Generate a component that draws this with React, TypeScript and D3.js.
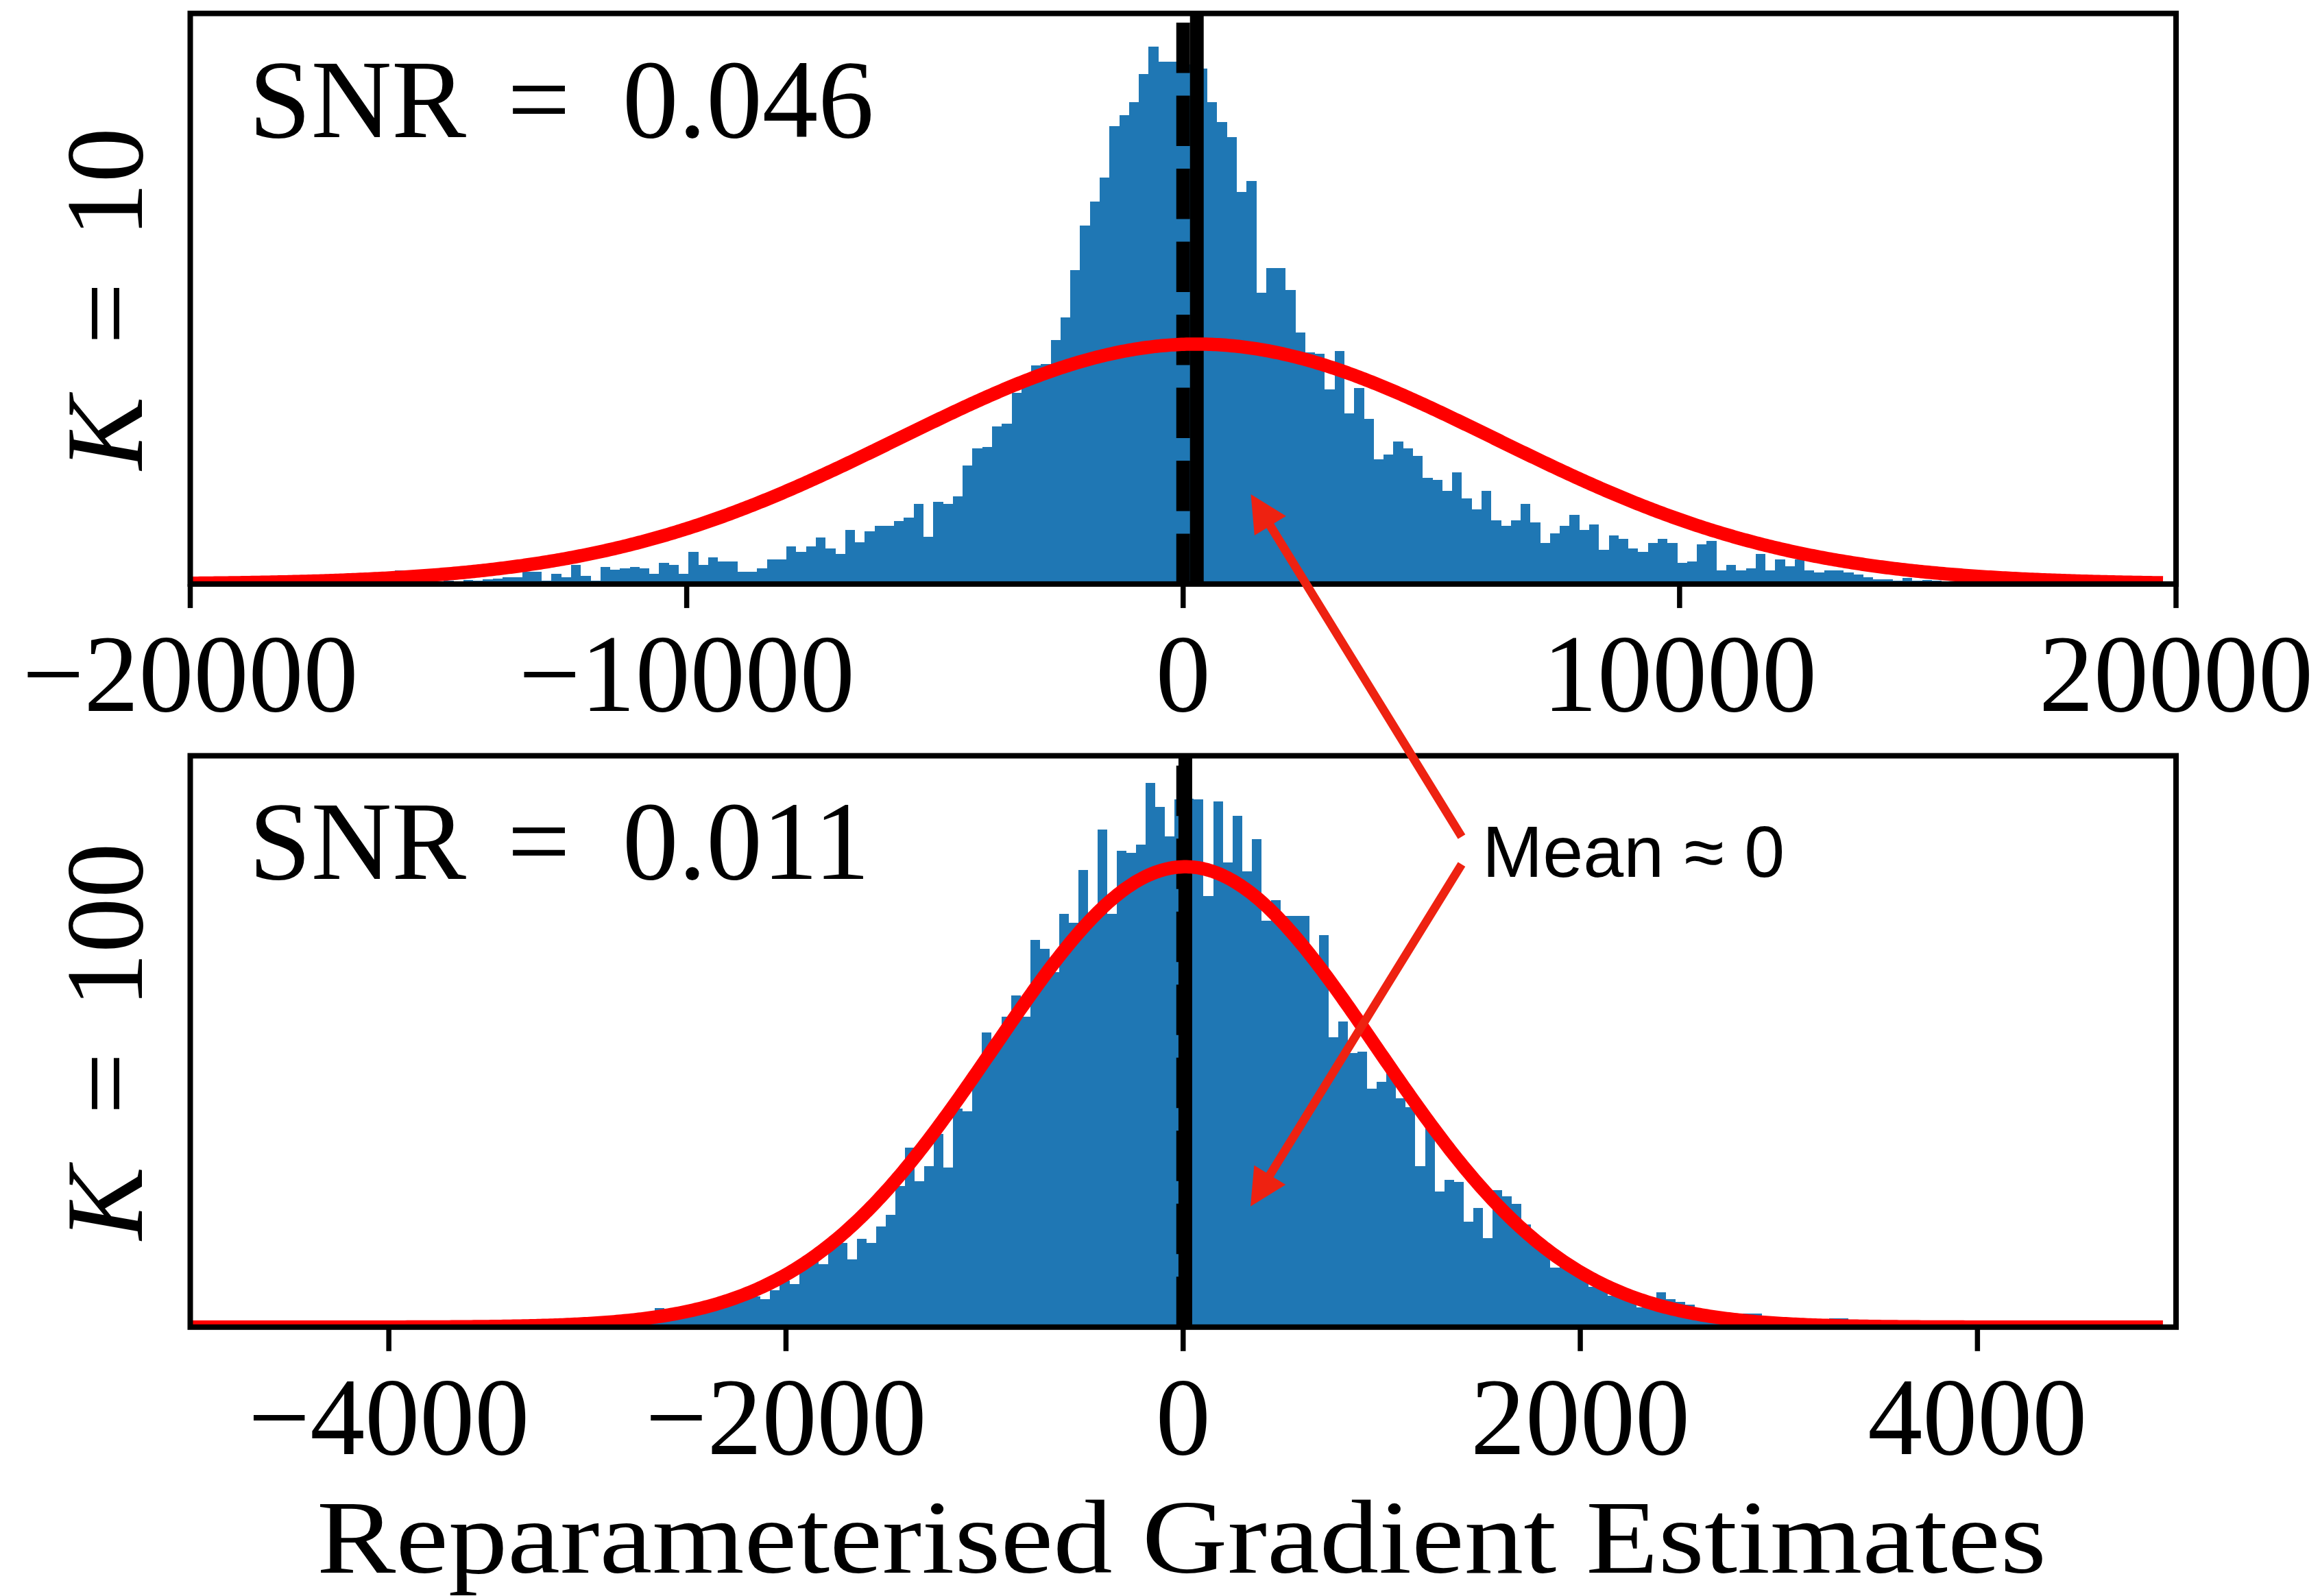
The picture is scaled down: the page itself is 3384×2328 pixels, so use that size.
import React from "react";
import * as d3 from "d3";

// ---------------- data ----------------
// Top panel: K = 10
const topXDomain = [-20000, 20000];
const topTicks = [-20000, -10000, 0, 10000, 20000];
const topBinStart = -15879;
const topBinWidth = 197.2;
const topCounts = [
  20, 3, 2, 4, 3, 5, 4, 6, 5, 7, 8,
  10, 10, 18, 18, 5, 15, 10, 28, 12, 5,
  25, 21, 23, 25, 23, 15, 31, 28, 15, 47,
  28, 39, 33, 33, 18, 18, 23, 36, 36, 55,
  47, 55, 68, 52, 44, 79, 61, 77, 85, 85,
  92, 97, 117, 69, 120, 117, 128, 173, 198, 200,
  230, 234, 279, 295, 319, 321, 356, 389, 458, 523,
  558, 593, 668, 684, 703, 744, 784, 762, 762, 767,
  758, 752, 703, 674, 652, 572, 588, 425, 461, 461,
  429, 367, 338, 336, 284, 340, 249, 286, 241, 182,
  189, 208, 198, 187, 155, 152, 136, 163, 125, 109,
  136, 93, 85, 93, 117, 90, 60, 74, 85, 101,
  79, 87, 50, 71, 66, 52, 47, 60, 66, 60,
  31, 33, 58, 63, 20, 28, 20, 23, 44, 20,
  36, 26, 36, 20, 17, 20, 20, 17, 14, 10, 7, 7, 5, 9, 5, 6, 5,
];
const topYMax = 832.3;
const topMean = 276;
const topSd = 6000;
const topFitPeak = 350;
const topFitRange = [-20000, 19737];
const topSNR = "0.046";
const topK = "10";

// Bottom panel: K = 100
const bottomXDomain = [-5000, 5000];
const bottomTicks = [-4000, -2000, 0, 2000, 4000];
const bottomBinStart = -2806.8;
const bottomBinWidth = 48.49;
const bottomCounts = [
  8, 12, 16,
  28, 22, 25, 28, 30, 33, 36, 38, 42, 45,
  45, 41, 54, 68, 63, 86, 100, 92, 123, 123,
  99, 129, 123, 147, 164, 206, 262, 213, 235, 282,
  233, 319, 315, 368, 430, 410, 453, 484, 453, 565,
  552, 518, 603, 590, 667, 600, 726, 603, 695, 692,
  704, 794, 759, 716, 770, 771, 770, 629, 767, 678,
  746, 665, 712, 593, 623, 600, 600, 600, 532, 572,
  423, 446, 400, 402, 348, 358, 375, 334, 321, 235,
  297, 198, 215, 212, 154, 174, 130, 200, 191, 180,
  150, 132, 120, 87, 98, 82, 72, 59, 63, 46,
  45, 38, 29, 40, 51, 41, 37, 33, 25, 8,
  18, 15, 14, 20, 20, 10, 8, 6, 5, 4, 3, 3, 13, 13,
];
const bottomYMax = 833.4;
const bottomMean = 11;
const bottomSd = 965;
const bottomFitPeak = 671.5;
const bottomFitRange = [-5000, 4934];
const bottomSNR = "0.011";
const bottomK = "100";

const trueValue = 0; // dashed reference line
const xLabel = "Reparameterised Gradient Estimates";
const annotationText = "Mean \u2248 0";
// arrow targets, in data coordinates of [top panel, bottom panel]
const annotationTargets = [
  [1364, 131],
  [339, 176],
];

// ---------------- layout ----------------
const W = 3384;
const H = 2328;
const AX_L = 277.5;
const AX_R = 3174;
const PANEL_Y = [
  [19.6, 851.9],
  [1102.4, 1935.8],
];
const ARROW_STARTS = [
  [2132, 1220.5],
  [2132, 1260.7],
];
const SERIF = "'Liberation Serif', 'Times New Roman', serif";
const SANS = "'Liberation Sans', Arial, sans-serif";
const BAR = "#1f77b4";
const ARROW = "#ee2211";

const panels = [
  {
    counts: topCounts, binStart: topBinStart, binWidth: topBinWidth,
    xDomain: topXDomain, ticks: topTicks, yMax: topYMax,
    mean: topMean, sd: topSd, peak: topFitPeak, fitRange: topFitRange,
    snr: topSNR, k: topK, y: PANEL_Y[0],
  },
  {
    counts: bottomCounts, binStart: bottomBinStart, binWidth: bottomBinWidth,
    xDomain: bottomXDomain, ticks: bottomTicks, yMax: bottomYMax,
    mean: bottomMean, sd: bottomSd, peak: bottomFitPeak, fitRange: bottomFitRange,
    snr: bottomSNR, k: bottomK, y: PANEL_Y[1],
  },
];

const fmt = (v: number) => (v < 0 ? "\u2212" + Math.abs(v) : String(v));

function scalesFor(p: any) {
  const x = d3.scaleLinear().domain(p.xDomain).range([AX_L, AX_R]);
  const y = d3.scaleLinear().domain([0, p.yMax]).range([p.y[1], p.y[0]]);
  return { x, y };
}

function Panel({ p, id }: { p: any; id: number }) {
  const { x, y } = scalesFor(p);
  const top = p.y[0];
  const bottom = p.y[1];
  const bins = p.counts.map((c: number, i: number) => ({
    x0: p.binStart + i * p.binWidth,
    x1: p.binStart + (i + 1) * p.binWidth,
    c,
  }));
  const n = 800;
  const xs = d3.range(n + 1).map((i) => p.fitRange[0] + ((p.fitRange[1] - p.fitRange[0]) * i) / n);
  const fit = (v: number) => p.peak * Math.exp(-0.5 * ((v - p.mean) / p.sd) ** 2);
  const line = d3
    .line<number>()
    .x((v) => x(v))
    .y((v) => y(fit(v)));
  const clipId = `axclip${id}`;
  const cy = (top + bottom) / 2;
  return (
    <g>
      <defs>
        <clipPath id={clipId}>
          <rect x={AX_L} y={top} width={AX_R - AX_L} height={bottom - top} />
        </clipPath>
      </defs>
      <g clipPath={`url(#${clipId})`}>
        {bins.map((b: any, i: number) => (
          <rect
            key={i}
            x={x(b.x0)}
            y={y(b.c)}
            width={x(b.x1) - x(b.x0)}
            height={y(0) - y(b.c)}
            fill={BAR}
            shapeRendering="crispEdges"
          />
        ))}
        <line
          x1={x(trueValue)} x2={x(trueValue)} y1={bottom} y2={top}
          stroke="#000" strokeWidth={20} strokeDasharray="73.5 33"
        />
        <line x1={x(p.mean)} x2={x(p.mean)} y1={bottom} y2={top} stroke="#000" strokeWidth={20} />
        <path d={line(xs) || ""} fill="none" stroke="#ff0000" strokeWidth={19.5} strokeLinejoin="round" />
      </g>
      <rect
        x={AX_L} y={top} width={AX_R - AX_L} height={bottom - top}
        fill="none" stroke="#000" strokeWidth={8}
      />
      {p.ticks.map((t: number) => (
        <g key={t}>
          <line x1={x(t)} x2={x(t)} y1={bottom} y2={bottom + 35} stroke="#000" strokeWidth={7.5} />
          <text
            x={x(t)} y={bottom + 185} textAnchor="middle"
            fontFamily={SERIF} fontSize={160} fill="#000"
          >
            {fmt(t)}
          </text>
        </g>
      ))}
      <text x={363} y={top + 180} fontFamily={SERIF} fontSize={163} fill="#000">
        <tspan>SNR</tspan>
        <tspan dx={60}>=</tspan>
        <tspan dx={76}>{p.snr}</tspan>
      </text>
      <text
        transform={`translate(207,${cy}) rotate(-90)`}
        textAnchor="middle" fontFamily={SERIF} fontSize={160} fill="#000"
      >
        <tspan fontStyle="italic">K</tspan>
        <tspan dx={76}>=</tspan>
        <tspan dx={66}>{p.k}</tspan>
      </text>
    </g>
  );
}

function arrowPoints(x0: number, y0: number, x1: number, y1: number, w = 12.5, hw = 54, hl = 54) {
  const dx = x1 - x0;
  const dy = y1 - y0;
  const L = Math.hypot(dx, dy);
  const ux = dx / L;
  const uy = dy / L;
  const nx = -uy;
  const ny = ux;
  const bx = x1 - ux * hl;
  const by = y1 - uy * hl;
  const pts = [
    [x0 + (nx * w) / 2, y0 + (ny * w) / 2],
    [bx + (nx * w) / 2, by + (ny * w) / 2],
    [bx + (nx * hw) / 2, by + (ny * hw) / 2],
    [x1, y1],
    [bx - (nx * hw) / 2, by - (ny * hw) / 2],
    [bx - (nx * w) / 2, by - (ny * w) / 2],
    [x0 - (nx * w) / 2, y0 - (ny * w) / 2],
  ];
  return pts.map((q) => q.join(",")).join(" ");
}

export default function App() {
  const arrows = annotationTargets.map((tgt, i) => {
    const { x, y } = scalesFor(panels[i]);
    const [sx, sy] = ARROW_STARTS[i];
    return <polygon key={i} points={arrowPoints(sx, sy, x(tgt[0]), y(tgt[1]))} fill={ARROW} />;
  });
  return (
    <svg
      width={W}
      height={H}
      viewBox={`0 0 ${W} ${H}`}
      xmlns="http://www.w3.org/2000/svg"
      style={{ position: "absolute", left: 0, top: 0, display: "block" }}
    >
      <rect x={0} y={0} width={W} height={H} fill="#fff" />
      {panels.map((p, i) => (
        <Panel key={i} p={p} id={i} />
      ))}
      <text
        x={462} y={2294} fontFamily={SERIF} fontSize={153} fill="#000"
        textLength={2523} lengthAdjust="spacingAndGlyphs"
      >
        {xLabel}
      </text>
      {arrows}
      <text x={2162} y={1279} fontFamily={SANS} fontSize={106} fill="#000">
        {annotationText}
      </text>
    </svg>
  );
}
